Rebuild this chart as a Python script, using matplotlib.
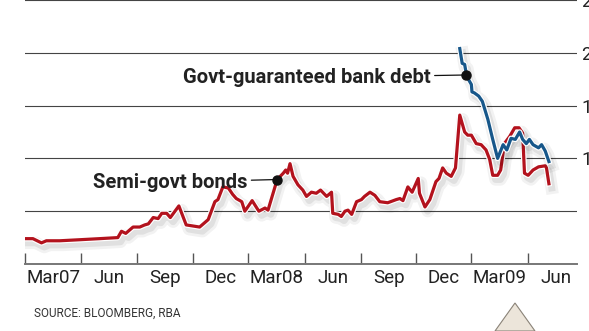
"""
Semi-govt bond vs govt-guaranteed bank debt spreads, 2007-2009.
"""

import matplotlib
matplotlib.use("Agg")
import matplotlib.pyplot as plt
import matplotlib.patheffects as pe
from matplotlib.patches import Polygon
import pandas as pd

plt.rcParams["font.family"] = ["Roboto", "DejaVu Sans"]

# ── data (spread, basis points) ─────────────────────────────────────────
semi_dates = [
    "2007-03-01", "2007-03-14", "2007-03-28", "2007-04-05", "2007-04-27",
    "2007-05-30", "2007-07-01", "2007-07-31", "2007-08-06", "2007-08-13",
    "2007-08-25", "2007-09-05", "2007-09-13", "2007-09-19", "2007-09-27",
    "2007-10-05", "2007-10-11", "2007-10-19", "2007-10-25", "2007-11-08",
    "2007-11-20", "2007-12-01", "2007-12-12", "2007-12-26", "2008-01-06",
    "2008-01-11", "2008-01-19", "2008-01-28", "2008-02-04", "2008-02-10",
    "2008-02-19", "2008-02-24", "2008-03-07", "2008-03-18", "2008-03-28",
    "2008-04-02", "2008-04-17", "2008-04-27", "2008-05-01", "2008-05-04",
    "2008-05-08", "2008-05-13", "2008-05-21", "2008-05-29", "2008-06-04",
    "2008-06-12", "2008-06-20", "2008-06-27", "2008-07-07", "2008-07-15",
    "2008-07-17", "2008-07-26", "2008-07-31", "2008-08-06", "2008-08-11",
    "2008-08-17", "2008-08-25", "2008-09-02", "2008-09-07", "2008-09-16",
    "2008-09-24", "2008-10-02", "2008-10-15", "2008-10-29", "2008-11-04",
    "2008-11-09", "2008-11-17", "2008-11-24", "2008-12-04", "2008-12-06",
    "2008-12-15", "2008-12-23", "2009-01-02", "2009-01-07", "2009-01-13",
    "2009-01-19", "2009-01-27", "2009-02-03", "2009-02-10", "2009-02-18",
    "2009-02-23", "2009-03-01", "2009-03-09", "2009-03-17", "2009-03-25",
    "2009-03-31", "2009-04-05", "2009-04-13", "2009-04-18", "2009-04-24",
    "2009-05-03", "2009-05-11", "2009-05-18", "2009-05-24", "2009-05-27",
    "2009-06-02", "2009-06-10", "2009-06-19", "2009-06-30", "2009-07-02",
    "2009-07-06",
]
semi_values = [
    24, 24, 20, 22, 22,
    23, 24, 25, 31, 29,
    35, 35, 37, 38, 44,
    43, 48, 48, 44, 55,
    37, 36, 35, 42, 59,
    61, 73, 72, 66, 62,
    59, 50, 60, 50, 53,
    51, 80, 86, 89, 86,
    95, 83, 75, 70, 64,
    68, 67, 70, 64, 68,
    48, 47, 45, 50, 51,
    47, 59, 61, 64, 68,
    65, 59, 58, 61, 62,
    60, 73, 68, 81, 67,
    54, 61, 78, 81, 91,
    86, 83, 91, 141, 125,
    122, 122, 114, 113, 108,
    99, 84, 84, 89, 114,
    121, 129, 129, 124, 86,
    84, 89, 92, 93, 91,
    76,
]

bank_dates = [
    "2009-02-10", "2009-02-14", "2009-02-18", "2009-02-21", "2009-02-25",
    "2009-03-01", "2009-03-02", "2009-03-06", "2009-03-13", "2009-03-19",
    "2009-03-28", "2009-04-05", "2009-04-13", "2009-04-22", "2009-04-28",
    "2009-05-05", "2009-05-12", "2009-05-19", "2009-05-24", "2009-05-30",
    "2009-06-04", "2009-06-10", "2009-06-19", "2009-06-24", "2009-06-30",
    "2009-07-06",
]
bank_values = [
    204, 190, 189, 179, 174,
    170, 163, 162, 159, 154,
    137, 118, 100, 113, 108,
    119, 118, 125, 118, 114,
    118, 113, 110, 113, 107,
    97,
]

quarter_starts = ["2007-03-01", "2007-06-01", "2007-09-01", "2007-12-01",
                  "2008-03-01", "2008-06-01", "2008-09-01", "2008-12-01",
                  "2009-03-01", "2009-06-01", "2009-09-01"]
quarter_labels = ["Mar07", "Jun", "Sep", "Dec", "Mar08", "Jun", "Sep", "Dec",
                  "Mar09", "Jun"]
y_ticks = [50, 100, 150, 200, 250]
y_labels = ["", "100", "150", "200", "250"]

semi = pd.Series(semi_values, index=pd.to_datetime(semi_dates))
bank = pd.Series(bank_values, index=pd.to_datetime(bank_dates))
qs = pd.to_datetime(quarter_starts)

RED = "#b3121d"
BLUE = "#17578a"
TEXT = "#222222"

fig = plt.figure(figsize=(5.89, 3.31), dpi=100)
ax = fig.add_axes([25 / 589, 67 / 331, 552 / 589, 264 / 331])


def line_effects():
    # soft drop shadow + white halo, like the print graphic
    return [
        pe.SimpleLineShadow(offset=(2, -3), shadow_color="#000000", alpha=0.05, linewidth=9),
        pe.SimpleLineShadow(offset=(2, -3), shadow_color="#000000", alpha=0.07, linewidth=5),
        pe.Stroke(linewidth=4, foreground="white"),
        pe.Normal(),
    ]


ax.plot(semi.index, semi.values, color=RED, lw=2.3, solid_joinstyle="round",
        path_effects=line_effects(), zorder=3)
ax.plot(bank.index, bank.values, color=BLUE, lw=2.3, solid_joinstyle="round",
        path_effects=line_effects(), zorder=4)

# ── axes styling ────────────────────────────────────────────────────────
ax.set_xlim(pd.Timestamp("2007-03-01"), pd.Timestamp("2009-08-21"))
ax.set_ylim(0, 250)
for side in ("top", "left", "right"):
    ax.spines[side].set_visible(False)
ax.spines["bottom"].set_color("#777777")
ax.spines["bottom"].set_linewidth(1.4)

ax.set_xticks(qs[:-1])
ax.set_xticklabels([])
ax.set_xticks(qs[:-1] + (qs[1:] - qs[:-1]) / 2, minor=True)
ax.set_xticklabels(quarter_labels, minor=True, fontsize=13.5, color=TEXT)
ax.tick_params(axis="x", which="major", direction="in", length=8,
               width=1, color="#555555")
ax.tick_params(axis="x", which="minor", length=0, pad=3.5)

ax.yaxis.tick_right()
ax.set_yticks(y_ticks)
ax.set_yticklabels(y_labels, fontsize=13.5, color=TEXT)
ax.tick_params(axis="y", length=0, pad=3)
ax.grid(axis="y", color="#444444", lw=0.8)
ax.set_axisbelow(True)

# ── annotations ─────────────────────────────────────────────────────────
for series, idx, label, dx in [(semi, 36, "Semi-govt bonds", -30),
                               (bank, 3, "Govt-guaranteed bank debt", -36)]:
    x, y = series.index[idx], series.values[idx]
    ax.plot([x], [y], "o", color="#111111", ms=6.5, zorder=6)
    ax.annotate(label, xy=(x, y), xytext=(dx * 0.72, -2), textcoords="offset points",
                ha="right", va="center", fontsize=14.5, fontweight="bold",
                color=TEXT, zorder=6,
                arrowprops=dict(arrowstyle="-", color="#111111", lw=0.9,
                                shrinkA=1, shrinkB=0))

fig.text(34 / 589, 1 - 313 / 331, "SOURCE: BLOOMBERG, RBA", fontsize=8.5,
         color="#333333", va="center", ha="left")

# pointer triangle peeking in at the bottom
fig.patches.append(Polygon([[495 / 589, 0], [515 / 589, 1 - 303 / 331], [535 / 589, 0]],
                           closed=True, transform=fig.transFigure, facecolor="#ece5da",
                           edgecolor="#8a8378", lw=0.8))

fig.savefig("out.png", dpi=100)
plt.close(fig)
